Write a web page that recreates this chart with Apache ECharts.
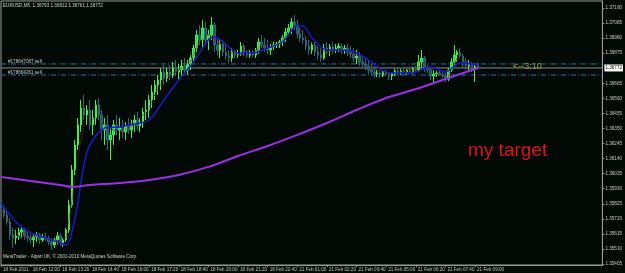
<!DOCTYPE html>
<html><head><meta charset="utf-8">
<script src="https://cdn.jsdelivr.net/npm/echarts@6/dist/echarts.min.js"></script>
<style>html,body{margin:0;padding:0;background:#030a06;}#c{width:625px;height:273px;}</style>
</head><body><div id="c"></div>
<script>
const timeLabels = ["18 Feb 2011","18 Feb 12:00","18 Feb 13:20","18 Feb 14:40","18 Feb 16:00","18 Feb 17:20","18 Feb 18:40","18 Feb 20:00","18 Feb 21:20","18 Feb 22:40","21 Feb 01:00","21 Feb 02:20","21 Feb 03:40","21 Feb 05:00","21 Feb 06:20","21 Feb 07:40","21 Feb 09:00"];
const priceTicks = [1.35405,1.35510,1.35615,1.35720,1.35825,1.35930,1.36035,1.36140,1.36245,1.36350,1.36455,1.36560,1.36665,1.36875,1.36980,1.37085,1.37190];
const currentPrice = 1.36772;
const orderPrices = [1.36800, 1.36723];
const orderLabels = ["#178647087 sell", "#178664261 sell"];
const headerText = "EURUSD,M5  1.36793 1.36812 1.36761 1.36772";
const footerText = "MetaTrader - Alpari UK, © 2001-2010 MetaQuotes Software Corp.";
const targetText = "my target";
const timerText = "<--3:10";

const opens = [1.35817,1.35782,1.35747,1.35698,1.35608,1.35587,1.35601,1.35629,1.35643,1.35601,
1.35587,1.35573,1.35594,1.35608,1.35573,1.35594,1.35580,1.35559,1.35538,1.35573,
1.35601,1.35552,1.35573,1.35643,1.35817,1.36061,1.36235,1.36375,1.36493,1.36444,
1.36479,1.36375,1.36423,1.36514,1.36444,1.36340,1.36375,1.36270,1.36305,1.36375,
1.36340,1.36354,1.36326,1.36368,1.36340,1.36375,1.36409,1.36368,1.36395,1.36465,
1.36479,1.36549,1.36604,1.36653,1.36688,1.36744,1.36702,1.36744,1.36723,1.36772,
1.36744,1.36758,1.36786,1.36758,1.36800,1.36841,1.36911,1.37002,1.36967,1.37051,
1.36967,1.37002,1.37071,1.36932,1.36897,1.36939,1.36883,1.36855,1.36841,1.36883,
1.36862,1.36869,1.36925,1.36883,1.36862,1.36876,1.36862,1.36897,1.36953,1.36932,
1.36911,1.36897,1.36918,1.36932,1.36939,1.36953,1.36981,1.37023,1.37051,1.37092,
1.37071,1.37009,1.36981,1.36967,1.36925,1.36897,1.36932,1.36883,1.36862,1.36841,
1.36911,1.36897,1.36918,1.36897,1.36911,1.36925,1.36897,1.36911,1.36883,1.36869,
1.36841,1.36855,1.36814,1.36800,1.36786,1.36758,1.36744,1.36730,1.36737,1.36723,
1.36744,1.36730,1.36716,1.36730,1.36751,1.36737,1.36751,1.36744,1.36758,1.36744,
1.36765,1.36758,1.36814,1.36841,1.36772,1.36758,1.36716,1.36730,1.36737,1.36723,
1.36716,1.36695,1.36758,1.36814,1.36862,1.36883,1.36855,1.36814,1.36786,1.36800,
1.36772,1.36793];
const closes = [1.35782,1.35747,1.35698,1.35608,1.35587,1.35601,1.35629,1.35643,1.35601,1.35587,
1.35573,1.35594,1.35608,1.35573,1.35594,1.35580,1.35559,1.35538,1.35573,1.35601,
1.35552,1.35573,1.35643,1.35817,1.36061,1.36235,1.36375,1.36493,1.36444,1.36479,
1.36375,1.36423,1.36514,1.36444,1.36340,1.36375,1.36270,1.36305,1.36375,1.36340,
1.36354,1.36326,1.36368,1.36340,1.36375,1.36409,1.36368,1.36395,1.36465,1.36479,
1.36549,1.36604,1.36653,1.36688,1.36744,1.36702,1.36744,1.36723,1.36772,1.36744,
1.36758,1.36786,1.36758,1.36800,1.36841,1.36911,1.37002,1.36967,1.37051,1.36967,
1.37002,1.37071,1.36932,1.36897,1.36939,1.36883,1.36855,1.36841,1.36883,1.36862,
1.36869,1.36925,1.36883,1.36862,1.36876,1.36862,1.36897,1.36953,1.36932,1.36911,
1.36897,1.36918,1.36932,1.36939,1.36953,1.36981,1.37023,1.37051,1.37092,1.37071,
1.37009,1.36981,1.36967,1.36925,1.36897,1.36932,1.36883,1.36862,1.36841,1.36911,
1.36897,1.36918,1.36897,1.36911,1.36925,1.36897,1.36911,1.36883,1.36869,1.36841,
1.36855,1.36814,1.36800,1.36786,1.36758,1.36744,1.36730,1.36737,1.36723,1.36744,
1.36730,1.36716,1.36730,1.36751,1.36737,1.36751,1.36744,1.36758,1.36744,1.36765,
1.36758,1.36814,1.36841,1.36772,1.36758,1.36716,1.36730,1.36737,1.36723,1.36716,
1.36695,1.36758,1.36814,1.36862,1.36883,1.36855,1.36814,1.36786,1.36800,1.36772,
1.36786,1.36772];
const lows = [1.35768,1.35726,1.35678,1.35573,1.35517,1.35545,1.35573,1.35587,1.35573,1.35559,
1.35545,1.35524,1.35559,1.35545,1.35559,1.35566,1.35538,1.35503,1.35517,1.35545,
1.35531,1.35524,1.35559,1.35622,1.35796,1.36026,1.36200,1.36326,1.36409,1.36375,
1.36340,1.36305,1.36375,1.36409,1.36270,1.36235,1.36200,1.36131,1.36235,1.36305,
1.36270,1.36284,1.36270,1.36312,1.36284,1.36326,1.36340,1.36326,1.36354,1.36409,
1.36423,1.36493,1.36549,1.36584,1.36618,1.36653,1.36674,1.36688,1.36702,1.36716,
1.36688,1.36716,1.36730,1.36723,1.36758,1.36814,1.36883,1.36932,1.36911,1.36932,
1.36897,1.36967,1.36883,1.36862,1.36841,1.36855,1.36828,1.36807,1.36814,1.36841,
1.36841,1.36855,1.36855,1.36841,1.36841,1.36848,1.36841,1.36869,1.36911,1.36883,
1.36869,1.36862,1.36897,1.36911,1.36911,1.36925,1.36953,1.36995,1.37009,1.37037,
1.36981,1.36953,1.36939,1.36897,1.36862,1.36869,1.36855,1.36828,1.36814,1.36828,
1.36869,1.36855,1.36869,1.36876,1.36883,1.36869,1.36869,1.36855,1.36841,1.36814,
1.36800,1.36786,1.36772,1.36758,1.36730,1.36716,1.36702,1.36709,1.36702,1.36709,
1.36716,1.36688,1.36688,1.36716,1.36723,1.36723,1.36730,1.36723,1.36730,1.36730,
1.36737,1.36744,1.36772,1.36744,1.36737,1.36688,1.36667,1.36709,1.36716,1.36702,
1.36674,1.36681,1.36744,1.36793,1.36814,1.36841,1.36772,1.36758,1.36744,1.36744,
1.36674,1.36761];
const highs = [1.35838,1.35810,1.35782,1.35726,1.35657,1.35643,1.35657,1.35671,1.35657,1.35629,
1.35622,1.35615,1.35629,1.35622,1.35615,1.35622,1.35601,1.35587,1.35587,1.35629,
1.35622,1.35587,1.35657,1.35852,1.36096,1.36270,1.36423,1.36549,1.36584,1.36514,
1.36549,1.36479,1.36549,1.36563,1.36479,1.36423,1.36444,1.36354,1.36409,1.36444,
1.36423,1.36409,1.36395,1.36423,1.36409,1.36444,1.36465,1.36423,1.36493,1.36549,
1.36584,1.36653,1.36688,1.36723,1.36772,1.36793,1.36772,1.36793,1.36814,1.36828,
1.36800,1.36828,1.36841,1.36828,1.36862,1.36932,1.37037,1.37071,1.37106,1.37092,
1.37037,1.37127,1.37092,1.36981,1.36967,1.36967,1.36932,1.36897,1.36911,1.36897,
1.36897,1.36953,1.36939,1.36897,1.36897,1.36897,1.36911,1.36981,1.37002,1.36981,
1.36967,1.36939,1.36953,1.36953,1.36967,1.37002,1.37051,1.37078,1.37120,1.37141,
1.37106,1.37051,1.37037,1.36995,1.36967,1.36953,1.36953,1.36925,1.36911,1.36939,
1.36953,1.36939,1.36953,1.36939,1.36946,1.36939,1.36932,1.36939,1.36925,1.36911,
1.36897,1.36883,1.36855,1.36841,1.36828,1.36800,1.36786,1.36758,1.36758,1.36751,
1.36758,1.36744,1.36737,1.36765,1.36772,1.36765,1.36772,1.36765,1.36772,1.36779,
1.36786,1.36862,1.36897,1.36855,1.36793,1.36772,1.36758,1.36751,1.36751,1.36744,
1.36744,1.36772,1.36841,1.36932,1.36897,1.36911,1.36869,1.36841,1.36828,1.36814,
1.36800,1.36812];

const fastMaIdx = [0,3,6,10,15,20,22,24,26,28,32,36,40,45,50,53,56,60,64,67,70,73,76,80,85,88,92,96,99,102,106,110,115,120,125,130,135,140,143,147,151,154,158,161];
const fastMa = [1.35796,1.35678,1.35601,1.35594,1.35587,1.35566,1.35587,1.35852,1.36165,1.36375,1.36423,1.36354,1.36326,1.36375,1.36493,1.36632,1.36716,1.36758,1.36814,1.36953,1.37002,1.36967,1.36883,1.36862,1.36876,1.36925,1.36918,1.36981,1.37071,1.37016,1.36918,1.36876,1.36911,1.36862,1.36772,1.36730,1.36744,1.36758,1.36814,1.36730,1.36716,1.36841,1.36800,1.36779];
const slowMaIdx = [0,5,10,15,20,22,25,28,30,35,40,45,50,55,60,65,70,72,75,80,85,90,95,100,102,105,110,115,120,125,130,135,140,145,150,155,161];
const slowMa = [1.35831,1.35698,1.35622,1.35587,1.35552,1.35538,1.35726,1.36096,1.36235,1.36354,1.36361,1.36382,1.36409,1.36549,1.36688,1.36814,1.36967,1.36988,1.36953,1.36876,1.36876,1.36911,1.36953,1.37064,1.37064,1.36981,1.36897,1.36897,1.36876,1.36814,1.36744,1.36737,1.36744,1.36779,1.36744,1.36807,1.36793];
const longMaIdx = [0,10,20,24,30,40,50,60,70,80,90,100,110,120,130,140,150,161];
const longMa = [1.36012,1.35984,1.35956,1.35942,1.35956,1.35970,1.35991,1.36026,1.36082,1.36158,1.36228,1.36305,1.36388,1.36479,1.36563,1.36625,1.36695,1.36772];

const SLOTS = 204;
const categories = Array.from({length: SLOTS}, (_, i) => (i % 10 === 0 && i / 10 < timeLabels.length) ? timeLabels[i / 10] : '');
const candleData = opens.map((o, i) => [o, closes[i], lows[i], highs[i]]);
const pairs = (idx, vals) => idx.map((x, k) => [x, vals[k]]);
const showSlot = (i) => i % 10 === 0 && i / 10 < timeLabels.length;
const lastSlot = SLOTS - 1;
const hLine = (price) => [[0, price], [lastSlot, price]];

const chart = echarts.init(document.getElementById('c'), null, {renderer: 'canvas'});
const smallFont = {fontFamily: 'Liberation Sans', fontSize: 4.6, color: '#c8c8c8'};
chart.setOption({
  animation: false,
  backgroundColor: '#030a06',
  grid: {left: 1, right: 17, top: 1, bottom: 8, show: true, borderColor: '#9a9a9a', borderWidth: 1, backgroundColor: 'transparent'},
  xAxis: {
    type: 'category', data: categories, boundaryGap: false,
    axisLine: {show: true, lineStyle: {color: '#9a9a9a', width: 1}},
    axisTick: {show: true, interval: (i) => showSlot(i), length: 2, lineStyle: {color: '#9a9a9a'}},
    axisLabel: Object.assign({interval: (i) => showSlot(i), align: 'left', margin: 2, padding: [0,0,0,2]}, smallFont),
    splitLine: {show: false}
  },
  yAxis: {
    type: 'value', position: 'right', min: 1.35398, max: 1.37239,
    axisLine: {show: true, lineStyle: {color: '#9a9a9a', width: 1}},
    axisTick: {show: true, length: 2, customValues: priceTicks, lineStyle: {color: '#9a9a9a'}},
    axisLabel: Object.assign({customValues: priceTicks, margin: 3, formatter: (v) => v.toFixed(5)}, smallFont),
    splitLine: {show: false}
  },
  series: [
    {type: 'line', name: 'order1', data: hLine(orderPrices[0]), showSymbol: false, symbol: 'none', silent: true,
     lineStyle: {color: '#2676a6', width: 1, type: [5, 2, 1, 2]}, z: 1},
    {type: 'line', name: 'order2', data: hLine(orderPrices[1]), showSymbol: false, symbol: 'none', silent: true,
     lineStyle: {color: '#2676a6', width: 1, type: [5, 2, 1, 2]}, z: 1},
    {type: 'line', name: 'bid', data: hLine(currentPrice), showSymbol: false, symbol: 'none', silent: true,
     lineStyle: {color: '#8c8c8c', width: 1}, z: 1},
    {
      type: 'candlestick', data: candleData, barWidth: 2,
      itemStyle: {color: '#2fd04a', color0: '#25506a', borderColor: '#3cf24c', borderColor0: '#2b6a7a', borderWidth: 1},
      z: 2
    },
    {type: 'line', data: pairs(fastMaIdx, fastMa), showSymbol: false, symbol: 'none', lineStyle: {color: '#b01010', width: 1, type: 'dotted'}, z: 3},
    {type: 'line', data: pairs(slowMaIdx, slowMa), showSymbol: false, symbol: 'none', smooth: 0.3, lineStyle: {color: '#1a1ad0', width: 1.5}, z: 4},
    {type: 'line', data: pairs(longMaIdx, longMa), showSymbol: false, symbol: 'none', smooth: 0.3, lineStyle: {color: '#9a2fe8', width: 2}, z: 5,
     markPoint: {
       silent: true, symbol: 'rect', symbolSize: 0,
       data: [
         {coord: [0, orderPrices[0]], label: Object.assign({show: true, formatter: orderLabels[0], position: 'insideBottomLeft', offset: [2, 5]}, smallFont)},
         {coord: [0, orderPrices[1]], label: Object.assign({show: true, formatter: orderLabels[1], position: 'insideBottomLeft', offset: [2, 5]}, smallFont)},
         {coord: [lastSlot, currentPrice], label: {show: true, formatter: currentPrice.toFixed(5), position: 'right', distance: 2, backgroundColor: '#ffffff', color: '#000000', fontFamily: 'Liberation Sans', fontSize: 4.6, padding: [1, 1]}}
       ]
     }}
  ],
  graphic: [
    {type: 'text', left: 3, top: 3, style: {text: headerText, fill: '#d0d0d0', font: '4.6px "Liberation Sans"'}},
    {type: 'text', left: 3, top: 254, style: {text: footerText, fill: '#d0d0d0', font: '4.6px "Liberation Sans"'}},
    {type: 'text', left: 468, top: 141, style: {text: targetText, fill: '#e01414', font: '19px "Liberation Sans"'}},
    {type: 'text', left: 513, top: 62, style: {text: timerText, fill: '#b4a400', font: '9px "Liberation Sans"'}}
  ]
});
</script>
</body></html>
